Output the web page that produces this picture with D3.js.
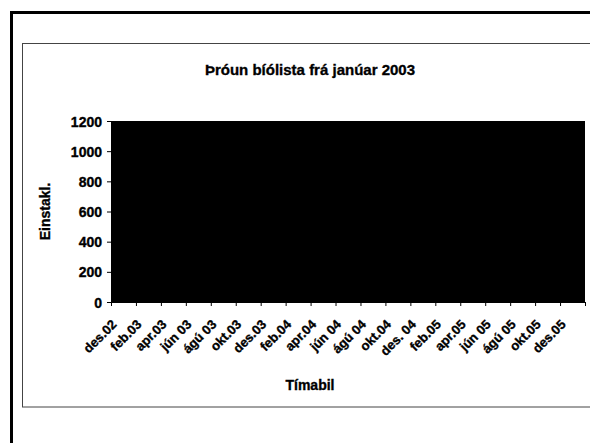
<!DOCTYPE html>
<html>
<head>
<meta charset="utf-8">
<script src="https://cdn.jsdelivr.net/npm/d3@7"></script>
<style>
  html, body { margin: 0; padding: 0; background: #fff; }
  svg { display: block; }
  text { font-family: "Liberation Sans", Arial, sans-serif; font-weight: bold; fill: #000; stroke: #000; stroke-width: 0.35px; }
</style>
</head>
<body>
<svg id="chart" width="590" height="443"></svg>
<script>
// Monthly categories (des.02 – jan.06), every second one is labelled
const months = ["des.02","jan.03","feb.03","mar.03","apr.03","maí.03","jún 03","júl.03","ágú 03","sep.03","okt.03","nóv.03",
                "des.03","jan.04","feb.04","mar.04","apr.04","maí.04","jún 04","júl.04","ágú 04","sep.04","okt.04","nóv.04",
                "des. 04","jan.05","feb.05","mar.05","apr.05","maí.05","jún 05","júl.05","ágú 05","sep.05","okt.05","nóv.05",
                "des. 05","jan.06"];
const tickLabels = ["des.02","feb.03","apr.03","jún 03","ágú 03","okt.03","des.03","feb.04","apr.04","jún 04",
                    "ágú 04","okt.04","des. 04","feb.05","apr.05","jún 05","ágú 05","okt.05","des.05"];
// Series: the filled area reaches the top of the axis in every month (read as >= 1200)
const values = [1200,1200,1200,1200,1200,1200,1200,1200,1200,1200,1200,1200,
                1200,1200,1200,1200,1200,1200,1200,1200,1200,1200,1200,1200,
                1200,1200,1200,1200,1200,1200,1200,1200,1200,1200,1200,1200,
                1200,1200];
const yTicks = [0,200,400,600,800,1000,1200];

const svg = d3.select("#chart");

// outer frame (thick) and inner chart-area frame (thin)
svg.append("rect").attr("x", 11.5).attr("y", 12.5).attr("width", 620).attr("height", 460)
  .attr("fill", "none").attr("stroke", "#000").attr("stroke-width", 3);
svg.append("rect").attr("x", 22.5).attr("y", 43.5).attr("width", 600).attr("height", 363.5)
  .attr("fill", "none").attr("stroke", "#444").attr("stroke-width", 1);

const L = 111, R = 585, T = 121, B = 302;
const x = d3.scaleBand().domain(months).range([L, R]).padding(0);
const y = d3.scaleLinear().domain([0, 1200]).range([B, T]);

// plot area
svg.append("rect").attr("x", L).attr("y", T).attr("width", R - L).attr("height", B - T)
  .attr("fill", "#000");

// area series
const area = d3.area()
  .x((d, i) => i === 0 ? L : (i === values.length - 1 ? R : x(months[i]) + x.bandwidth() / 2))
  .y0(y(0))
  .y1(d => y(Math.min(d, 1200)));
svg.append("path").datum(values).attr("d", area).attr("fill", "#000");

// y axis
const yAxis = d3.axisLeft(y).tickValues(yTicks).tickSize(4).tickPadding(5).tickFormat(d3.format("d"));
const gy = svg.append("g").attr("transform", `translate(${L},0)`).call(yAxis);
gy.select(".domain").attr("stroke", "#000");
gy.selectAll(".tick line").attr("stroke", "#000");
gy.selectAll("text").style("font-size", "14px").attr("dy", "0.36em");

// x axis: ticks every second category boundary
const boundaries = d3.range(0, months.length + 1, 2).map(i => i < months.length ? x(months[i]) : R);
const gx = svg.append("g");
gx.append("line").attr("x1", L).attr("x2", R).attr("y1", B + 0.5).attr("y2", B + 0.5).attr("stroke", "#000");
gx.selectAll(".xt").data(boundaries).join("line").attr("class", "xt")
  .attr("x1", d => d + 0.5).attr("x2", d => d + 0.5).attr("y1", B).attr("y2", B + 4).attr("stroke", "#000");
gx.selectAll(".xl").data(tickLabels).join("text").attr("class", "xl")
  .attr("transform", (d, i) => `translate(${x(months[i * 2]) + x.bandwidth() / 2 - 3},${B + 20}) rotate(-45)`)
  .attr("text-anchor", "end")
  .attr("dy", "0.35em")
  .style("font-size", "13px")
  .text(d => d);

// titles
svg.append("text").attr("x", 310).attr("y", 75).attr("text-anchor", "middle")
  .style("font-size", "15px").text("Þróun bíólista frá janúar 2003");
svg.append("text").attr("transform", `translate(50,${(T + B) / 2}) rotate(-90)`).attr("text-anchor", "middle")
  .style("font-size", "14px").text("Einstakl.");
svg.append("text").attr("x", 310).attr("y", 390).attr("text-anchor", "middle")
  .style("font-size", "14px").text("Tímabil");
</script>
</body>
</html>
